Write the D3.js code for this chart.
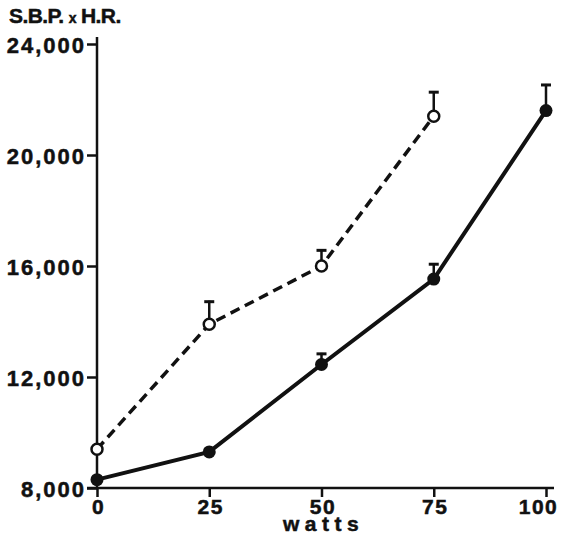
<!DOCTYPE html>
<html><head><meta charset="utf-8">
<script src="https://cdn.jsdelivr.net/npm/d3@7"></script>
<style>
html,body{margin:0;padding:0;background:#fff;}
svg text{font-family:"Liberation Sans",Arial,sans-serif;font-weight:bold;fill:#111;stroke:#111;stroke-width:0.5px;}
</style></head>
<body><svg id="c" width="563" height="543"></svg>
<script>
const watts = [0, 25, 50, 75, 100];
const openWatts = [0, 25, 50, 75];
const openValues = [9400, 13900, 16000, 21400];
const openErrTop = [null, 14750, 16600, 22300];
const filledWatts = [0, 25, 50, 75, 100];
const filledValues = [8300, 9300, 12450, 15530, 21600];
const filledErrTop = [null, null, 12870, 16100, 22560];
const yTicks = [8000, 12000, 16000, 20000, 24000];
const xTicks = [0, 25, 50, 75, 100];

const svg = d3.select("#c");
const x = d3.scaleLinear().domain([0, 100]).range([97, 546]);
const y = d3.scaleLinear().domain([8000, 24000]).range([488, 44]);
const ink = "#111";

// axes
const yAx = svg.append("g").attr("transform", `translate(${x(0)},0)`)
  .call(d3.axisLeft(y).tickValues(yTicks).tickSize(10).tickPadding(1).tickFormat(d3.format(",")));
yAx.select(".domain").remove();
yAx.selectAll(".tick line").attr("stroke", ink).attr("stroke-width", 2.5);
yAx.selectAll(".tick text").style("font-size", "22px").style("letter-spacing", "2px")
  .attr("dy", "0.4em").attr("fill", ink);

const xAx = svg.append("g").attr("transform", `translate(0,${y(8000)})`)
  .call(d3.axisBottom(x).tickValues(xTicks).tickSize(9).tickPadding(2));
xAx.select(".domain").remove();
xAx.selectAll(".tick line").attr("stroke", ink).attr("stroke-width", 2.5);
xAx.selectAll(".tick text").style("font-size", "21px").style("letter-spacing", "1.5px").attr("fill", ink)
  .attr("dx", d => d === 100 ? "-8px" : "1px");

// axis lines
svg.append("line").attr("x1", x(0)).attr("x2", x(0)).attr("y1", y(8000)).attr("y2", y(24000) - 7)
  .attr("stroke", ink).attr("stroke-width", 2.5);
svg.append("line").attr("x1", x(0) - 10).attr("x2", x(100) + 8).attr("y1", y(8000)).attr("y2", y(8000))
  .attr("stroke", ink).attr("stroke-width", 2.5);

// labels
svg.append("text").attr("x", 9).attr("y", 23).style("font-size", "21px").style("letter-spacing", "-0.6px")
  .html('S.B.P. <tspan style="font-size:14px">x</tspan> H.R.');
svg.append("text").attr("x", 283).attr("y", 531).attr("text-anchor", "start")
  .style("font-size", "21px").style("letter-spacing", "5.5px").text("watts");

const line = d3.line().x(d => x(d[0])).y(d => y(d[1]));
const openData = openWatts.map((w, i) => [w, openValues[i], openErrTop[i]]);
const filledData = filledWatts.map((w, i) => [w, filledValues[i], filledErrTop[i]]);

// error bars
function errBars(data) {
  const g = svg.append("g");
  data.filter(d => d[2] != null).forEach(d => {
    g.append("line").attr("x1", x(d[0])).attr("x2", x(d[0])).attr("y1", y(d[1])).attr("y2", y(d[2]))
      .attr("stroke", ink).attr("stroke-width", 2.5);
    g.append("line").attr("x1", x(d[0]) - 5).attr("x2", x(d[0]) + 5).attr("y1", y(d[2]) + 1).attr("y2", y(d[2]) + 1)
      .attr("stroke", ink).attr("stroke-width", 3);
  });
}
errBars(openData);
errBars(filledData);

svg.append("path").datum(openData).attr("d", line).attr("fill", "none").attr("stroke", ink)
  .attr("stroke-width", 3.5).attr("stroke-dasharray", "10,6");
svg.append("path").datum(filledData).attr("d", line).attr("fill", "none").attr("stroke", ink)
  .attr("stroke-width", 4);

svg.append("g").selectAll("circle").data(openData).join("circle")
  .attr("cx", d => x(d[0])).attr("cy", d => y(d[1])).attr("r", 5.5)
  .attr("fill", "#fff").attr("stroke", ink).attr("stroke-width", 2.5);
svg.append("g").selectAll("circle").data(filledData).join("circle")
  .attr("cx", d => x(d[0])).attr("cy", d => y(d[1])).attr("r", 6.5)
  .attr("fill", ink);
</script></body></html>
